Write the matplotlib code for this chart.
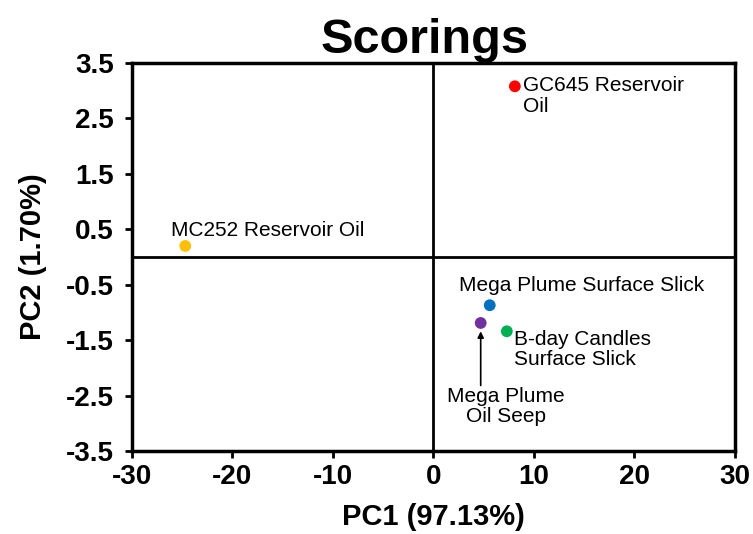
import matplotlib.pyplot as plt

# PCA scores
names = ["GC645 Reservoir\nOil", "MC252 Reservoir Oil", "Mega Plume Surface Slick",
         "Mega Plume\nOil Seep", "B-day Candles\nSurface Slick"]
pc1 = [8.1, -24.7, 5.6, 4.7, 7.3]
pc2 = [3.08, 0.2, -0.87, -1.19, -1.34]
colors = ["#ff0000", "#ffc000", "#0070c0", "#7030a0", "#00b050"]
xticks = [-30, -20, -10, 0, 10, 20, 30]
yticks = [3.5, 2.5, 1.5, 0.5, -0.5, -1.5, -2.5, -3.5]

plt.rcParams['font.family'] = ['Liberation Sans', 'DejaVu Sans']

fig = plt.figure(figsize=(7.53, 5.34), dpi=100)
ax = fig.add_axes([0.1753, 0.1554, 0.8007, 0.7266])

ax.axhline(0, color="black", lw=2, zorder=1)
ax.axvline(0, color="black", lw=2, zorder=1)
ax.scatter(pc1, pc2, s=72, c=colors, zorder=3, edgecolors="none")

# label offsets in points (ha left, va center)
offs = [(6, -7), (-10, 11), (-22, 14), None, (5, -13)]
for i, n in enumerate(names):
    if offs[i] is None:
        continue
    ax.annotate(n, (pc1[i], pc2[i]), xytext=offs[i], textcoords="offset points",
                ha="left", va="center", fontsize=15, linespacing=1.1)

# Mega Plume Oil Seep: text below with arrow pointing up
ax.annotate("", (pc1[3], pc2[3]), xytext=(0, -45), textcoords="offset points",
            arrowprops=dict(arrowstyle="-|>", color="black", lw=1.2,
                            shrinkA=0, shrinkB=6, mutation_scale=9))
ax.annotate(names[3], (pc1[3], pc2[3]), xytext=(18, -60), textcoords="offset points",
            ha="center", va="center", fontsize=15, linespacing=1.1)

ax.set_xlim(-30, 30)
ax.set_ylim(-3.5, 3.5)
ax.set_xticks(xticks)
ax.set_yticks(yticks)
ax.set_xticklabels([str(v) for v in xticks])
ax.set_yticklabels([str(v) for v in yticks])
ax.tick_params(labelsize=20, width=2, length=5)
ax.tick_params(axis="y", pad=8)
ax.tick_params(axis="x", pad=4)
for lab in ax.get_xticklabels() + ax.get_yticklabels():
    lab.set_fontweight("bold")
for sp in ax.spines.values():
    sp.set_linewidth(2.5)

ax.set_xlabel("PC1 (97.13%)", fontsize=21, fontweight="bold", labelpad=10)
ax.set_ylabel("PC2 (1.70%)", fontsize=21, fontweight="bold", labelpad=14)
ax.set_title("Scorings", fontsize=35, fontweight="bold", pad=2, x=0.485)

fig.savefig("out.png", dpi=100)
